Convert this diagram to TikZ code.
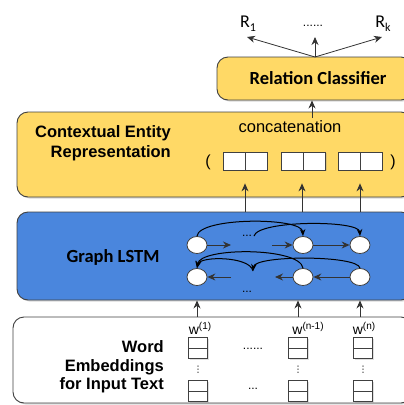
\documentclass[tikz,border=0pt]{standalone}
\usepackage{fontspec}
\setmainfont{Liberation Sans}
\newfontfamily\calfont{Carlito}
\newfontfamily\dvs{DejaVu Sans}
\usetikzlibrary{arrows.meta,shadows,shapes.geometric}
\definecolor{ylw}{HTML}{FFD966}
\definecolor{blu}{HTML}{4A86DD}
\definecolor{edge}{HTML}{404040}
\definecolor{arr}{HTML}{333333}
\newcommand{\fs}[1]{\fontsize{#1}{#1}\selectfont}
\begin{document}
\begin{tikzpicture}[x=1pt,y=-1pt,
  panel/.style={draw=edge,line width=0.9pt,rounded corners=11pt,inner sep=0pt,
    drop shadow={shadow xshift=1.5pt,shadow yshift=-1.5pt,opacity=0.3}},
  vecbox/.style={draw=edge,fill=white,line width=0.8pt,minimum width=44pt,minimum height=18pt,inner sep=0pt,
    drop shadow={shadow xshift=1pt,shadow yshift=-1pt,opacity=0.25},
    path picture={\draw[edge,line width=0.7pt] (path picture bounding box.north) -- (path picture bounding box.south);}},
  embbox/.style={draw=edge,fill=white,line width=0.7pt,minimum width=19pt,minimum height=21pt,inner sep=0pt,
    drop shadow={shadow xshift=1pt,shadow yshift=-1pt,opacity=0.25},
    path picture={\draw[edge,line width=0.6pt] (path picture bounding box.west) -- (path picture bounding box.east);}},
  cell/.style={ellipse,draw=edge,fill=white,line width=0.8pt,minimum width=20pt,minimum height=17pt,inner sep=0pt},
  harr/.style={arr,line width=1pt,-{Stealth[length=8pt,width=7pt]}},
  varr/.style={arr,line width=0.8pt,-{Stealth[length=8pt,width=7pt]}},
  carr/.style={black,line width=1pt,-{Stealth[length=7pt,width=5.5pt]}},
  lbl/.style={inner sep=0pt}
]
\useasboundingbox (0,0) rectangle (404,405);
\clip (0,0) rectangle (404,405);

% panels
\node[panel,fill=ylw,minimum width=195pt,minimum height=43pt] (rcbox) at (314.5,78.5) {};
\node[panel,fill=ylw,minimum width=395pt,minimum height=85pt] (cebox) at (214.5,154.5) {};
\node[panel,fill=blu,minimum width=395pt,minimum height=88pt] (lstmbox) at (214.5,256) {};
\node[panel,fill=white,minimum width=399pt,minimum height=86pt] (wbox) at (212.5,360) {};

% relation classifier
\node[lbl,font={\calfont\bfseries\fs{18.5}}] (rctext) at (318,78) {Relation Classifier};
\node[lbl,font={\calfont\fs{18}}] (r1) at (248,24) {R\raisebox{-4pt}{\fs{12}1}};
\node[lbl,font={\fs{12}}] (rdots) at (313,26) {......};
\node[lbl,font={\calfont\fs{18}}] (rk) at (383,24) {R\raisebox{-4pt}{\fs{12}k}};
\coordinate (rctop) at (315,57);
\coordinate (r1tip) at (247,37);
\coordinate (rup) at (315,37);
\coordinate (rktip) at (382,37);
\draw[varr] (rctop) -- (r1tip);
\draw[varr] (rctop) -- (rup);
\draw[varr] (rctop) -- (rktip);

% contextual entity representation
\node[lbl,anchor=east,align=right,font={\bfseries\fs{16.5}}] (cetxt) at (171,143) {Contextual Entity\\[3pt]Representation};
\node[lbl,font={\fs{16.5}}] (concat) at (290,127) {concatenation};
\coordinate (cstart) at (312,118);
\draw[varr] (cstart) -- (cstart |- rcbox.south);
\node[lbl,font={\fs{16}}] (lp) at (208,162) {(};
\node[lbl,font={\fs{16}}] (rp) at (393,162) {)};
\node[vecbox] (c1) at (245,161) {};
\node[vecbox] (c2) at (303.5,161) {};
\node[vecbox] (c3) at (360,161) {};

% graph LSTM
\node[lbl,font={\calfont\bfseries\fs{18.5}}] (gtxt) at (113,257) {Graph LSTM};
\node[cell] (t1) at (197,245) {};
\node[cell] (t2) at (303,245) {};
\node[cell] (t3) at (360,245) {};
\node[cell] (b1) at (197,277) {};
\node[cell] (b2) at (303,277) {};
\node[cell] (b3) at (360,277) {};
\node[lbl,font={\fs{12}}] (tdots) at (247,236) {...};
\node[lbl,font={\fs{12}}] (bdots) at (247,292) {...};
\coordinate (ta) at (231,245);
\coordinate (tb) at (272,245);
\coordinate (ba) at (231,277);
\coordinate (bb) at (275,277);
\coordinate (tm) at (254,236);
\coordinate (bm) at (253,271);
\draw[harr] (t1.east) -- (ta);
\draw[harr] (tb) -- (t2.west);
\draw[harr] (t2.east) -- (t3.west);
\draw[harr] (b3.west) -- (b2.east);
\draw[harr] (b2.west) -- (bb);
\draw[harr] (ba) -- (b1.east);
\draw[carr] (t1.north) .. controls (199,217) and (302,217) .. (t2.north);
\draw[carr] (tm) .. controls (258,220) and (359,220) .. (t3.north);
\draw[carr] (b2.north) .. controls (300,247) and (200,247) .. (b1.north);
\draw[carr] (b3.north) .. controls (358,255) and (255,255) .. (bm);
\draw[carr] (bm) .. controls (250,256) and (200,256) .. (b1.north);

% arrows LSTM -> vectors
\coordinate (u1) at (245,212);
\coordinate (u2) at (302,212);
\coordinate (u3) at (360,212);
\draw[varr] (u1) -- ([yshift=-13pt]c1.south);
\draw[varr] (u2) -- ([yshift=-13pt]u2 |- c2.south);
\draw[varr] (u3) -- ([yshift=-13pt]c3.south);

% word embeddings
\node[lbl,anchor=east,align=right,font={\bfseries\fs{16.5}}] (wtxt) at (164,367) {Word\\[2pt]Embeddings\\[2pt]for Input Text};
\node[lbl,font={\fs{14}}] (w1) at (200,328) {w\raisebox{5pt}{\fs{10}(1)}};
\node[lbl,font={\fs{14}}] (wn1) at (308,328) {w\raisebox{5pt}{\fs{10}(n-1)}};
\node[lbl,font={\fs{14}}] (wn) at (364,328) {w\raisebox{5pt}{\fs{10}(n)}};
\node[embbox] (e11) at (198,348) {};
\node[embbox] (e12) at (198,391) {};
\node[embbox] (e21) at (298,348) {};
\node[embbox] (e22) at (298,391) {};
\node[embbox] (e31) at (363,348) {};
\node[embbox] (e32) at (363,391) {};
\node[lbl,font={\dvs\fs{9}}] (vd1) at (198,369.5) {⋮};
\node[lbl,font={\dvs\fs{9}}] (vd2) at (298,369.5) {⋮};
\node[lbl,font={\dvs\fs{9}}] (vd3) at (363,369.5) {⋮};
\node[lbl,font={\fs{12}}] (edots1) at (253,349) {......};
\node[lbl,font={\fs{12}}] (edots2) at (253,389) {...};
\coordinate (d1) at (197,317);
\coordinate (d2) at (298,317);
\coordinate (d3) at (360,317);
\draw[varr] (d1) -- (d1 |- lstmbox.south);
\draw[varr] (d2) -- (d2 |- lstmbox.south);
\draw[varr] (d3) -- (d3 |- lstmbox.south);
\end{tikzpicture}
\end{document}
